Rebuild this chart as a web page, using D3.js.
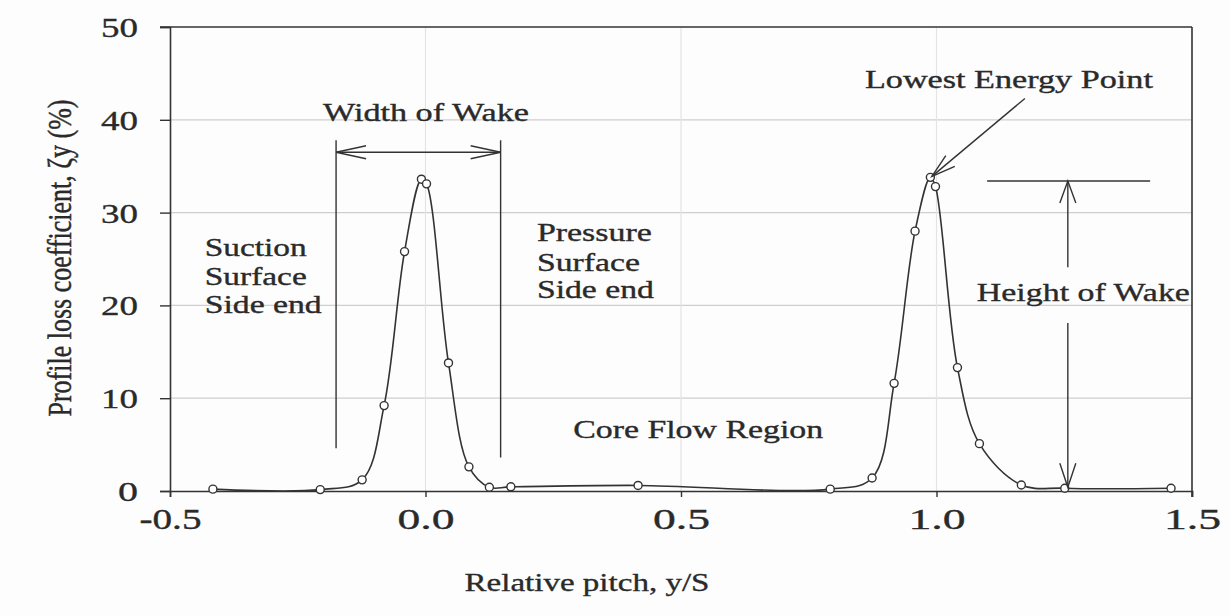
<!DOCTYPE html>
<html>
<head>
<meta charset="utf-8">
<script src="https://cdn.jsdelivr.net/npm/d3@7"></script>
<style>
  html, body { margin: 0; padding: 0; background: #fdfdfd; }
  svg { display: block; }
  text { font-family: "Liberation Serif", "Times New Roman", serif; fill: #2a2a2a; stroke: #2a2a2a; stroke-width: 0.35; }
</style>
</head>
<body>
<svg id="chart" width="1230" height="616"></svg>
<script>
// Measured wake profile: relative pitch y/S vs profile loss coefficient (%)
const pitch = [-0.416, -0.206, -0.124, -0.081, -0.041, -0.008, 0.002, 0.045, 0.085, 0.125, 0.167,
               0.416, 0.792, 0.874, 0.917, 0.958, 0.988, 0.998, 1.041, 1.084, 1.166, 1.251, 1.459];
const loss  = [0.2, 0.15, 1.2, 9.2, 25.8, 33.6, 33.1, 13.8, 2.6, 0.4, 0.45,
               0.6, 0.2, 1.4, 11.6, 28.0, 33.8, 32.8, 13.3, 5.1, 0.65, 0.3, 0.3];

const xTicks = [-0.5, 0.0, 0.5, 1.0, 1.5];
const xTickLabels = ["-0.5", "0.0", "0.5", "1.0", "1.5"];
const yTicks = [0, 10, 20, 30, 40, 50];
const yTickLabels = ["0", "10", "20", "30", "40", "50"];

const xTitle = "Relative pitch, y/S";
const yTitle = "Profile loss coefficient, \u03B6y (%)";

const svg = d3.select("#chart");
const x = d3.scaleLinear().domain([-0.5, 1.5]).range([170, 1192]);
const y = d3.scaleLinear().domain([0, 50]).range([491, 27]);
const ink = "#333";

// grid
const grid = svg.append("g");
grid.selectAll("line.hg").data(yTicks.filter(v => v > 0 && v < 50)).join("line")
  .attr("x1", x(-0.5)).attr("x2", x(1.5))
  .attr("y1", d => y(d)).attr("y2", d => y(d))
  .attr("stroke", "#cfcfcf").attr("stroke-width", 1.2);
grid.selectAll("line.vg").data(xTicks.filter(v => v > -0.5 && v < 1.5)).join("line")
  .attr("x1", d => x(d)).attr("x2", d => x(d))
  .attr("y1", y(0)).attr("y2", y(50))
  .attr("stroke", "#e4e4e4").attr("stroke-width", 1.2);

// axes
const yAxis = svg.append("g").attr("transform", `translate(${x(-0.5)},0)`)
  .call(d3.axisLeft(y).tickValues(yTicks).tickSize(10).tickPadding(22)
    .tickFormat((d, i) => yTickLabels[i]));
yAxis.selectAll("text").attr("font-size", 28).attr("dy", "0.34em")
  .attr("textLength", (d, i) => yTickLabels[i].length === 1 ? 20 : 37)
  .attr("lengthAdjust", "spacingAndGlyphs");

const xAxis = svg.append("g").attr("transform", `translate(0,${y(0)})`)
  .call(d3.axisBottom(x).tickValues(xTicks).tickSize(6).tickPadding(26)
    .tickFormat((d, i) => xTickLabels[i]));
xAxis.selectAll("text").attr("font-size", 30).attr("dy", "0.2em")
  .attr("textLength", (d, i) => xTickLabels[i].length === 4 ? 62 : 57)
  .attr("lengthAdjust", "spacingAndGlyphs");

[yAxis, xAxis].forEach(a => {
  a.selectAll("path.domain").attr("stroke", ink).attr("stroke-width", 1.6);
  a.selectAll(".tick line").attr("stroke", ink).attr("stroke-width", 1.4);
  a.selectAll("text").attr("fill", "#2a2a2a");
});

// right and top frame
svg.append("line").attr("x1", x(-0.5) - 10).attr("x2", x(1.5)).attr("y1", y(50)).attr("y2", y(50))
  .attr("stroke", ink).attr("stroke-width", 1.6);
svg.append("line").attr("x1", x(1.5)).attr("x2", x(1.5)).attr("y1", y(50)).attr("y2", y(0) + 6)
  .attr("stroke", ink).attr("stroke-width", 1.6);

// axis titles
svg.append("text").attr("x", 587).attr("y", 591)
  .attr("text-anchor", "middle").attr("font-size", 26)
  .attr("textLength", 245).attr("lengthAdjust", "spacingAndGlyphs")
  .text(xTitle);
svg.append("text")
  .attr("transform", "translate(71,258) scale(1.35,1) rotate(-90)")
  .attr("text-anchor", "middle").attr("font-size", 25)
  .attr("textLength", 317).attr("lengthAdjust", "spacingAndGlyphs")
  .text(yTitle);

// wake profile curve and measured points
const pts = pitch.map((p, i) => [p, loss[i]]);
svg.append("path").datum(pts)
  .attr("fill", "none").attr("stroke", ink).attr("stroke-width", 1.6)
  .attr("d", d3.line().x(d => x(d[0])).y(d => y(d[1])).curve(d3.curveCatmullRom.alpha(0.5)));
svg.selectAll("circle.pt").data(pts).join("circle")
  .attr("cx", d => x(d[0])).attr("cy", d => y(d[1])).attr("r", 4)
  .attr("fill", "#fff").attr("stroke", ink).attr("stroke-width", 1.4);

// annotation helpers
const ann = svg.append("g").attr("stroke", ink).attr("stroke-width", 1.4).attr("fill", "none");
function seg(x1, y1, x2, y2) {
  ann.append("line").attr("x1", x(x1)).attr("y1", y(y1)).attr("x2", x(x2)).attr("y2", y(y2));
}
function head(tipX, tipY, fromX, fromY, len, half) {
  const tx = x(tipX), ty = y(tipY), fx = x(fromX), fy = y(fromY);
  const a = Math.atan2(fy - ty, fx - tx);
  const bx = tx + len * Math.cos(a), by = ty + len * Math.sin(a);
  const nx = -Math.sin(a) * half, ny = Math.cos(a) * half;
  ann.append("path").attr("d", `M${bx + nx},${by + ny}L${tx},${ty}L${bx - nx},${by - ny}`);
}

// width of wake
seg(-0.175, 37.8, -0.175, 4.6);
seg(0.147, 37.8, 0.147, 3.6);
seg(-0.175, 36.5, 0.147, 36.5);
head(-0.175, 36.5, 0.147, 36.5, 30, 6.5);
head(0.147, 36.5, -0.175, 36.5, 30, 6.5);

// lowest energy point
seg(1.173, 42.3, 0.991, 33.9);
head(0.991, 33.9, 1.173, 42.3, 24, 7);

// height of wake
seg(1.099, 33.4, 1.418, 33.4);
seg(1.257, 33.4, 1.257, 24.1);
seg(1.257, 18.1, 1.257, 0.4);
head(1.257, 33.4, 1.257, 24.1, 22, 8);
head(1.257, 0.4, 1.257, 18.1, 24, 8);

// annotation labels
const notes = [
  { t: "Width of Wake",       px: 0.001, py: 39.9, anchor: "middle", w: 206 },
  { t: "Suction",             px: -0.432, py: 25.3, anchor: "start", w: 102 },
  { t: "Surface",             px: -0.432, py: 22.2, anchor: "start", w: 102 },
  { t: "Side end",            px: -0.432, py: 19.2, anchor: "start", w: 117 },
  { t: "Pressure",            px: 0.218, py: 26.9, anchor: "start", w: 115 },
  { t: "Surface",             px: 0.218, py: 23.7, anchor: "start", w: 103 },
  { t: "Side end",            px: 0.218, py: 20.8, anchor: "start", w: 117 },
  { t: "Core Flow Region",    px: 0.289, py: 5.7,  anchor: "start", w: 250 },
  { t: "Lowest Energy Point", px: 0.860, py: 43.4, anchor: "start", w: 288 },
  { t: "Height of Wake",      px: 1.079, py: 20.5, anchor: "start", w: 213 }
];
svg.append("g").selectAll("text").data(notes).join("text")
  .attr("x", d => x(d.px)).attr("y", d => y(d.py))
  .attr("text-anchor", d => d.anchor).attr("font-size", 25)
  .attr("textLength", d => d.w).attr("lengthAdjust", "spacingAndGlyphs")
  .text(d => d.t);
</script>
</body>
</html>
